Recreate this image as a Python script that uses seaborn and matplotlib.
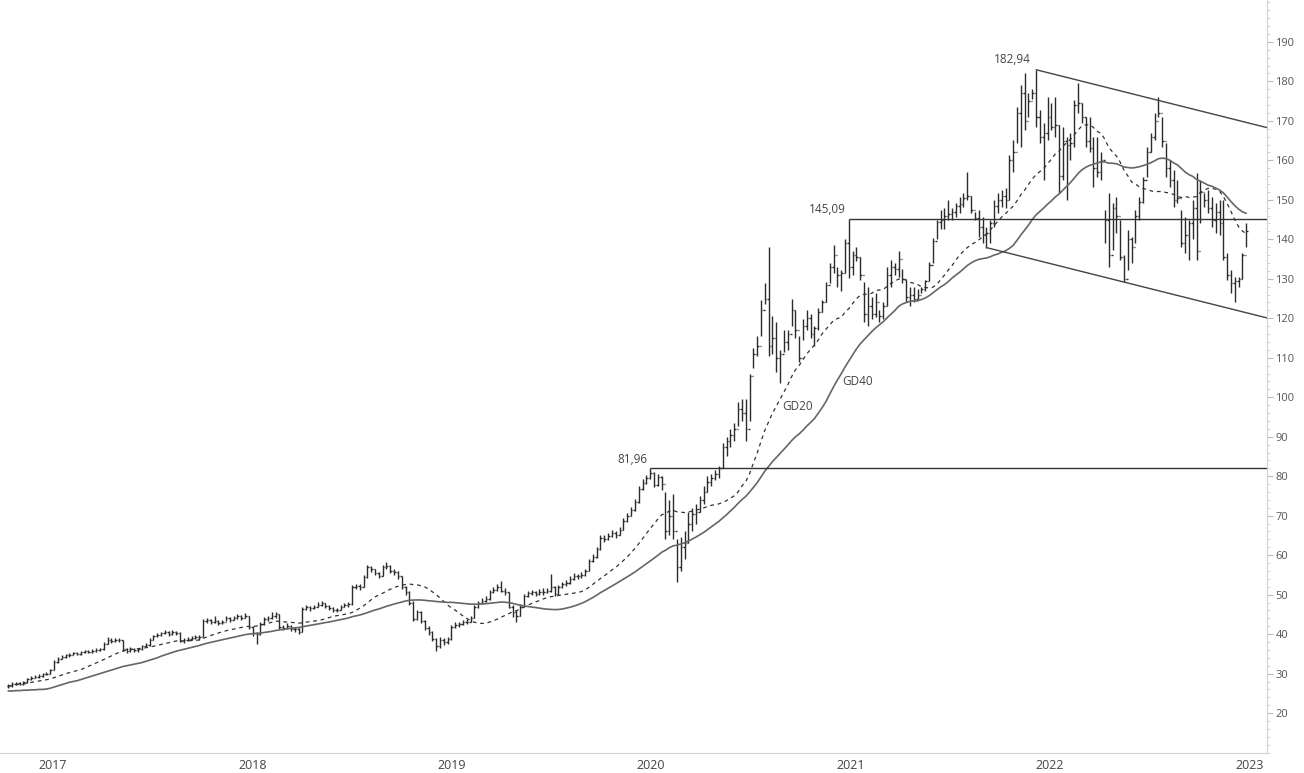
import pandas as pd
import numpy as np
import seaborn as sns
import matplotlib
matplotlib.use('Agg')
import matplotlib.pyplot as plt
import matplotlib.dates as mdates
from matplotlib.ticker import MultipleLocator
from matplotlib.transforms import ScaledTranslation

# weekly bars, first week 2016-11-07
FIRST_WEEK = '2016-11-07'

close = [
    26.8, 27.3, 27.6, 27.3, 27.8, 28.7, 29.0, 29.2, 29.5, 29.8,
    30.0, 30.8, 33.0, 33.8, 34.3, 34.6, 34.8, 35.2, 35.0, 35.4,
    35.8, 35.5, 35.8, 36.0, 36.2, 37.5, 38.6, 38.3, 38.6, 38.4,
    36.2, 35.8, 36.3, 36.0, 36.2, 37.0, 37.2, 38.5, 39.5, 39.8,
    40.2, 40.6, 40.0, 40.5, 40.3, 38.2, 38.5, 38.8, 39.0, 39.3,
    39.2, 43.3, 43.6, 43.0, 43.4, 42.8, 43.2, 44.0, 43.6, 44.0,
    44.5, 44.2, 44.6, 41.8, 40.2, 40.0, 42.5, 43.8, 44.0, 44.6,
    45.0, 41.8, 41.6, 42.0, 41.4, 41.2, 40.6, 46.3, 46.8, 46.5,
    47.0, 47.4, 47.8, 47.2, 46.6, 46.0, 46.2, 47.0, 47.4, 47.6,
    51.9, 52.2, 52.0, 54.4, 56.9, 56.5, 55.4, 54.8, 57.0, 57.3,
    56.0, 55.8, 54.6, 52.0, 50.6, 48.0, 43.8, 45.5, 43.3, 41.5,
    40.5, 38.7, 37.0, 38.6, 38.0, 38.8, 41.8, 42.4, 42.6, 43.0,
    43.2, 44.2, 46.8, 48.0, 48.5, 48.8, 50.6, 51.2, 52.0, 51.0,
    50.6, 47.0, 45.5, 44.6, 47.0, 49.6, 50.4, 50.6, 50.2, 50.8,
    50.6, 51.0, 52.0, 50.2, 52.0, 52.6, 53.0, 54.0, 54.8, 54.6,
    55.0, 56.0, 58.5, 59.5, 61.5, 64.4, 64.0, 64.8, 65.6, 65.2,
    66.5, 68.6, 70.0, 71.5, 73.5, 76.7, 78.4, 79.5, 80.8, 77.8,
    79.8, 78.0, 66.0, 70.0, 66.0, 57.0, 62.0, 63.0, 68.0, 70.5,
    71.0, 74.0, 76.0, 78.5, 79.5, 80.5, 82.0, 87.5, 89.0, 90.5,
    92.0, 97.0, 96.0, 92.0, 105.5, 111.0, 113.0, 122.0, 125.0, 113.0,
    115.0, 110.0, 111.0, 114.0, 116.0, 122.0, 117.0, 110.0, 118.0, 120.0,
    116.0, 117.5, 121.5, 124.0, 128.5, 133.0, 136.0, 131.0, 131.5, 139.0,
    133.0, 136.0, 135.5, 131.0, 121.0, 123.0, 121.0, 124.0, 120.5, 123.0,
    131.0, 133.0, 132.5, 135.0, 130.0, 125.5, 126.0, 125.0, 126.0, 127.5,
    129.5, 133.5, 139.5, 144.5, 145.0, 146.0, 146.5, 147.0, 148.5, 149.0,
    150.5, 151.0, 147.5, 145.5, 143.0, 141.0, 141.5, 144.0, 148.5, 150.0,
    151.0, 150.0, 160.0, 162.0, 172.0, 177.0, 170.0, 175.0, 177.0, 171.0,
    166.0, 167.0, 171.0, 168.5, 169.0, 156.0, 165.0, 164.0, 164.5, 174.0,
    174.5, 171.0, 165.0, 163.0, 158.0, 157.0, 160.0, 145.0, 136.0, 148.0,
    146.0, 135.5, 130.0, 140.0, 138.0, 146.0, 149.5, 155.0, 162.0, 166.0,
    170.0, 172.0, 165.0, 158.0, 155.0, 150.0, 150.5, 139.0, 141.0, 144.0,
    148.0, 137.0, 152.0, 150.0, 148.0, 145.0, 147.0, 144.0, 135.5, 131.0,
    129.0, 129.5, 130.0, 136.0, 142.0,
]

high = [
    27.5, 27.8, 28.0, 28.0, 28.2, 29.0, 29.4, 29.6, 29.8, 30.1,
    30.5, 31.2, 33.4, 34.2, 34.7, 35.0, 35.2, 35.6, 35.5, 35.8,
    36.1, 36.0, 36.2, 36.4, 36.6, 37.9, 39.3, 38.9, 39.1, 38.9,
    38.5, 36.5, 36.7, 36.6, 36.6, 37.3, 37.7, 38.9, 39.9, 40.3,
    40.6, 41.1, 40.8, 41.0, 40.9, 40.5, 39.0, 39.3, 39.5, 39.8,
    39.7, 43.9, 44.2, 43.9, 44.6, 43.6, 43.7, 44.6, 44.3, 44.6,
    45.2, 44.8, 45.3, 44.6, 42.0, 40.6, 43.0, 44.3, 44.5, 45.7,
    45.5, 45.0, 42.3, 42.9, 42.2, 41.8, 41.5, 46.8, 47.3, 47.1,
    47.5, 48.2, 48.4, 48.0, 47.4, 46.8, 46.7, 47.4, 47.9, 48.1,
    52.4, 52.8, 52.7, 54.9, 57.4, 57.3, 56.6, 55.7, 57.6, 58.3,
    57.5, 56.6, 56.0, 54.8, 52.3, 51.0, 48.3, 46.0, 45.8, 43.6,
    42.0, 40.8, 38.9, 39.2, 38.9, 39.4, 42.2, 43.0, 43.1, 43.5,
    43.8, 44.7, 47.3, 48.5, 49.1, 49.6, 51.1, 52.0, 52.6, 53.4,
    51.6, 50.8, 47.3, 46.0, 47.6, 50.1, 50.9, 51.2, 51.0, 51.4,
    51.6, 51.8, 55.2, 52.3, 52.5, 53.2, 53.6, 54.6, 55.4, 55.3,
    55.7, 56.6, 59.0, 60.2, 62.1, 65.0, 65.2, 65.5, 66.3, 66.2,
    67.1, 69.3, 70.8, 72.2, 74.1, 77.4, 79.2, 80.4, 81.96, 81.0,
    80.6, 80.0, 76.0, 74.0, 75.5, 64.0, 64.5, 66.0, 71.0, 72.0,
    73.0, 75.0, 77.5, 80.0, 80.5, 81.5, 82.5, 88.5, 90.0, 92.0,
    93.5, 98.7, 99.5, 99.5, 106.0, 112.5, 115.5, 124.7, 129.0, 138.0,
    120.5, 119.0, 112.0, 117.0, 117.0, 125.0, 122.0, 115.5, 119.7, 122.0,
    121.0, 118.0, 122.7, 124.7, 129.3, 134.0, 138.6, 133.0, 132.3, 140.0,
    145.09, 137.0, 138.0, 135.6, 129.3, 128.0, 125.5, 126.5, 122.0, 124.0,
    133.0, 134.8, 134.0, 137.0, 132.5, 129.8, 128.0, 128.0, 127.5, 128.0,
    129.8, 134.3, 140.4, 145.0, 147.5, 148.0, 150.0, 148.0, 149.3, 150.8,
    151.8, 157.0, 151.0, 147.0, 147.5, 145.7, 143.0, 145.0, 150.0, 151.8,
    152.5, 153.0, 161.4, 165.2, 173.5, 179.0, 182.0, 177.0, 178.0, 182.94,
    172.8, 169.5, 176.0, 174.5, 176.0, 169.0, 168.5, 166.0, 167.0, 175.3,
    179.6, 174.5, 171.0, 171.0, 166.0, 166.0, 162.0, 147.5, 151.8, 149.3,
    150.8, 145.0, 136.0, 142.4, 140.7, 147.5, 150.8, 155.8, 163.4, 167.0,
    172.0, 176.0, 171.0, 164.4, 160.0, 157.6, 155.0, 147.5, 145.7, 145.0,
    150.0, 156.9, 155.0, 151.8, 152.5, 150.8, 149.3, 150.0, 150.0, 136.6,
    132.3, 130.5, 130.5, 136.6, 144.2,
]

low = [
    26.3, 26.6, 27.0, 27.0, 27.1, 27.7, 28.5, 28.8, 29.0, 29.2,
    29.6, 29.9, 30.8, 32.8, 33.6, 34.0, 34.2, 34.6, 34.6, 34.8,
    35.2, 35.1, 35.3, 35.5, 35.8, 36.1, 37.4, 37.8, 38.0, 37.9,
    35.8, 35.3, 35.6, 35.5, 35.6, 36.1, 36.7, 37.1, 38.4, 39.2,
    39.6, 40.0, 39.5, 39.8, 39.9, 37.9, 37.8, 38.2, 38.5, 38.7,
    38.6, 39.3, 42.8, 42.5, 42.9, 42.2, 42.6, 43.3, 43.1, 43.5,
    43.9, 43.7, 44.0, 41.3, 39.6, 37.5, 39.9, 42.4, 43.4, 43.9,
    44.2, 41.3, 41.0, 41.4, 40.9, 40.6, 40.1, 40.6, 46.0, 45.9,
    46.3, 46.9, 47.2, 46.7, 46.0, 45.5, 45.6, 46.1, 46.8, 47.0,
    47.5, 51.5, 51.3, 51.9, 54.2, 55.8, 54.9, 54.2, 54.8, 56.6,
    55.4, 55.1, 54.0, 51.5, 50.0, 47.5, 43.3, 43.5, 42.8, 41.0,
    39.8, 38.2, 35.7, 36.5, 37.2, 37.6, 38.6, 41.5, 41.9, 42.3,
    42.6, 43.0, 44.1, 46.5, 47.7, 48.1, 48.7, 50.4, 51.0, 50.6,
    49.8, 46.5, 44.3, 43.2, 44.5, 46.8, 49.3, 49.9, 49.6, 50.0,
    50.0, 50.3, 50.6, 49.6, 50.0, 51.7, 52.3, 52.8, 53.8, 53.9,
    54.3, 54.8, 55.9, 58.2, 59.3, 61.3, 63.3, 63.8, 64.6, 64.4,
    65.0, 66.3, 68.4, 69.8, 71.3, 73.2, 76.4, 77.9, 79.2, 77.2,
    77.6, 76.5, 64.0, 65.0, 64.0, 53.1, 56.0, 59.0, 63.0, 66.0,
    68.0, 71.0, 73.0, 76.0, 77.5, 79.0, 79.5, 82.0, 85.0, 87.5,
    89.0, 92.6, 94.0, 89.0, 94.0, 107.5, 110.5, 115.4, 123.5, 110.5,
    111.0, 106.3, 103.7, 111.5, 112.0, 118.0, 115.0, 108.8, 114.5, 117.0,
    115.0, 113.0, 117.0, 121.7, 124.0, 129.0, 131.5, 128.0, 126.8, 131.5,
    130.3, 131.0, 134.5, 129.8, 119.0, 118.0, 119.7, 120.4, 119.0, 119.7,
    123.0, 128.0, 131.0, 130.5, 129.0, 124.0, 123.0, 124.0, 125.0, 126.3,
    127.0, 129.5, 134.0, 140.0, 142.5, 142.5, 145.0, 145.0, 145.7, 146.7,
    148.3, 150.0, 146.7, 145.0, 140.7, 139.0, 137.9, 139.0, 143.2, 146.7,
    148.3, 148.0, 150.0, 157.0, 164.4, 163.4, 167.7, 171.0, 175.5, 168.5,
    164.4, 155.0, 165.2, 167.7, 166.0, 151.8, 155.0, 150.0, 160.0, 163.4,
    172.0, 169.5, 163.4, 162.0, 153.3, 155.8, 155.0, 139.0, 133.0, 137.4,
    141.7, 134.8, 129.3, 132.3, 134.0, 139.0, 145.0, 149.3, 155.8, 162.0,
    165.2, 171.0, 163.4, 155.8, 153.3, 148.3, 149.3, 138.1, 136.6, 134.8,
    140.0, 134.8, 144.2, 148.3, 146.7, 143.2, 141.7, 141.0, 134.8, 129.8,
    126.5, 124.0, 128.0, 130.0, 138.1,
]

# GD40 for the first 40 weeks (history before the window)
gd40_head = [
    25.6, 25.6, 25.7, 25.7, 25.8, 25.8, 25.9, 25.9, 26.0, 26.0,
    26.1, 26.3, 26.6, 26.9, 27.2, 27.5, 27.8, 28.0, 28.2, 28.5,
    28.8, 29.1, 29.4, 29.7, 30.0, 30.3, 30.6, 30.9, 31.2, 31.5,
    31.8, 32.0, 32.2, 32.4, 32.6, 32.8, 33.1, 33.4, 33.7, 34.0,
]

# marked levels: (bar index, value, label)
levels = [(168, 81.96, '81,96'), (220, 145.09, '145,09')]
peak_idx, peak_val, peak_lbl = 269, 182.94, '182,94'
channel_low_idx = 256

ma_labels = [('GD20', '2020-10-23', 97.7), ('GD40', '2021-02-10', 104.0)]


def main():
    sns.set_theme(style='white')
    plt.rcParams['font.family'] = ['Open Sans', 'DejaVu Sans']

    dates = pd.date_range(FIRST_WEEK, periods=len(close), freq='7D')
    df = pd.DataFrame({'date': dates, 'high': high, 'low': low, 'close': close})
    df['open'] = df['close'].shift(1).fillna(df['close'])
    df['gd20'] = df['close'].rolling(20, min_periods=1).mean()
    df['gd40'] = df['close'].rolling(40, min_periods=1).mean()
    df.loc[:len(gd40_head) - 1, 'gd40'] = gd40_head

    fig = plt.figure(figsize=(13.04, 7.73), dpi=100)
    ax = fig.add_axes([0, 20 / 773, 1267 / 1304, 753 / 773])

    x = mdates.date2num(df['date'])
    tick = 2.6
    bar_color = '#2b2b2b'
    ax.vlines(x, df['low'], df['high'], color=bar_color, lw=1.0)
    ax.hlines(df['open'], x - tick, x, color=bar_color, lw=1.0)
    ax.hlines(df['close'], x, x + tick, color=bar_color, lw=1.0)

    sns.lineplot(x=x, y=df['gd20'].values, ax=ax, color='#333333', lw=0.9,
                 linestyle=(0, (3, 3)))
    sns.lineplot(x=x, y=df['gd40'].values, ax=ax, color='#666666', lw=1.2)

    xmin = mdates.date2num(pd.Timestamp('2016-10-23'))
    xmax = mdates.date2num(pd.Timestamp('2023-03-02'))

    for idx, val, lbl in levels:
        ax.hlines(val, x[idx], xmax, color='#333333', lw=1.0)
        ax.annotate(lbl, (x[idx], val), xytext=(-2, 2), textcoords='offset points',
                    ha='right', va='bottom', fontsize=8.5, color='#444444')

    # trend channel
    slope = -0.03466
    ax.plot([x[peak_idx], xmax], [peak_val, peak_val + slope * (xmax - x[peak_idx])],
            color='#444444', lw=1.0)
    lv = df['low'][channel_low_idx]
    ax.plot([x[channel_low_idx], xmax], [lv, lv + slope * (xmax - x[channel_low_idx])],
            color='#444444', lw=1.0)
    ax.annotate(peak_lbl, (x[peak_idx], peak_val), xytext=(-4, 3), textcoords='offset points',
                ha='right', va='bottom', fontsize=8.5, color='#444444')

    for lbl, d, v in ma_labels:
        ax.text(mdates.date2num(pd.Timestamp(d)), v, lbl, fontsize=8.5,
                color='#444444', ha='center', va='center')

    ax.set_xlim(xmin, xmax)
    ax.set_ylim(9.9, 200.6)

    ax.yaxis.tick_right()
    ax.yaxis.set_minor_locator(MultipleLocator(2))
    ax.set_yticks(range(20, 200, 10))
    ax.tick_params(axis='y', which='major', direction='out', length=4, width=0.8,
                   color='#bbbbbb', labelcolor='#555555', labelsize=8, pad=2)
    ax.tick_params(axis='y', which='minor', direction='out', length=2, width=0.6,
                   color='#cccccc')

    ax.xaxis.set_major_locator(mdates.YearLocator())
    ax.xaxis.set_major_formatter(mdates.DateFormatter('%Y'))
    ax.xaxis.set_minor_locator(mdates.MonthLocator())
    ax.tick_params(axis='x', which='major', direction='out', length=20, width=0.8,
                   color='#d0d0d0', labelcolor='#444444', labelsize=9, pad=-15.5)
    ax.tick_params(axis='x', which='minor', direction='out', length=3, width=0.6,
                   color='#cccccc')
    off = ScaledTranslation(0.5 / 72, 0, fig.dpi_scale_trans)
    for lab in ax.get_xticklabels():
        lab.set_horizontalalignment('left')
        lab.set_transform(lab.get_transform() + off)

    for s in ['top', 'left']:
        ax.spines[s].set_visible(False)
    for s in ['right', 'bottom']:
        ax.spines[s].set_color('#d0d0d0')
        ax.spines[s].set_linewidth(0.8)

    ax.set_xlabel('')
    ax.set_ylabel('')
    ax.grid(False)
    fig.savefig('out.png', dpi=100)


if __name__ == '__main__':
    main()
